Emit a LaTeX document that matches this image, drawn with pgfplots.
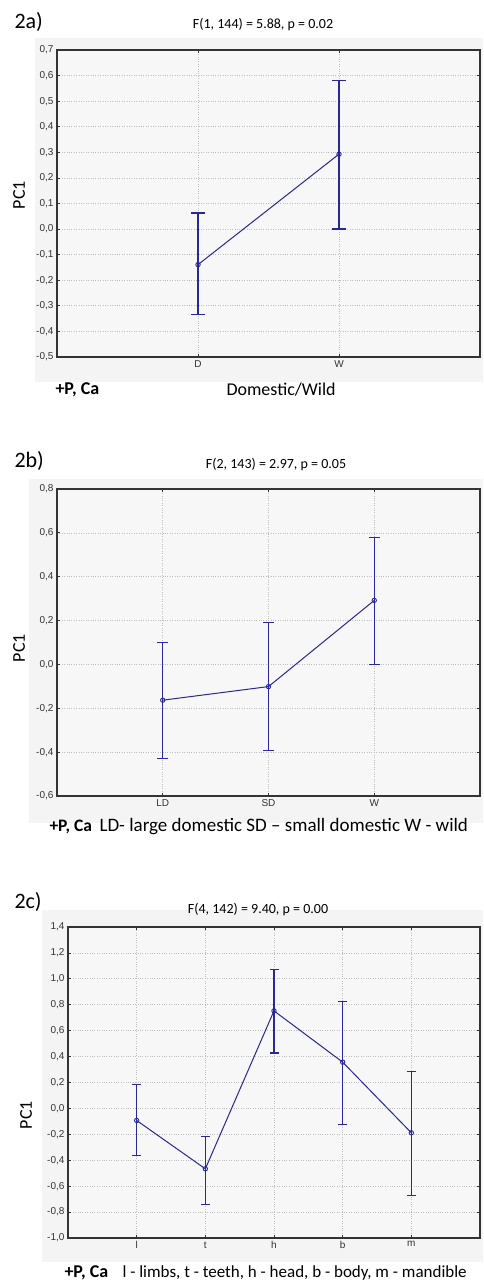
\documentclass[border=0pt]{standalone}
\usepackage{pgfplots}
\pgfplotsset{compat=1.18}
\usepackage{fontspec}
\setmainfont{Carlito}
\newfontfamily\tickfont{Liberation Sans}
\definecolor{statblue}{RGB}{40,40,150}
\definecolor{panelgray}{RGB}{244,244,244}

\pgfplotsset{
  panel/.style={
    scale only axis,
    anchor=north west,
    axis background/.style={fill=panelgray!70!white},
    grid=major,
    major grid style={dotted, gray!50, line width=0.7pt},
    axis line style={line width=1.2pt, black!80},
    tick style={black!80, line width=0.8pt},
    major tick length=3pt,
    tick align=inside,
    ticklabel style={font=\fontsize{10}{11}\selectfont\tickfont, text=black!80},
    yticklabel style={/pgf/number format/.cd, fixed, fixed zerofill, precision=1, use comma},
    /pgf/number format/assume math mode=true,
    xmin=0,
  },
  series/.style={
    statblue, line width=1pt,
    mark=o, mark size=2.2pt, mark options={fill=white, solid, line width=0.9pt},
    error bars/.cd, y dir=both, y explicit,
    error bar style={line width=1.2pt},
    error mark options={rotate=90, mark size=#1, line width=1.2pt},
  },
}

\begin{document}
\begin{tikzpicture}
\useasboundingbox (0,0) rectangle (483pt,-1285pt);

% gray panels behind each chart
\fill[panelgray] (35pt,-38pt) rectangle (483pt,-382pt);
\fill[panelgray] (29pt,-479pt) rectangle (483pt,-823pt);
\fill[panelgray] (42pt,-910pt) rectangle (483pt,-1262pt);

% ---------- 2a ----------
\node[anchor=west, font=\fontsize{22}{24}\selectfont] at (11pt,-22pt) {2a)};
\node[font=\fontsize{14}{16}\selectfont] at (263pt,-25pt) {F(1, 144) = 5.88, p = 0.02};
\begin{axis}[panel,
  at={(57pt,-50pt)}, width=423pt, height=307pt,
  xmax=3, ymin=-0.5, ymax=0.7,
  xtick={1,2}, xticklabels={D,W},
  ytick={-0.5,-0.4,-0.3,-0.2,-0.1,0,0.1,0.2,0.3,0.4,0.5,0.6,0.7},
]
\addplot[series=7pt] coordinates {
  (1,-0.139) += (0,0.2015) -= (0,0.196)
  (2,0.293)  += (0,0.287)  -= (0,0.293)
};
\end{axis}
\node[rotate=90, font=\fontsize{18}{20}\selectfont] at (19pt,-195pt) {PC1};
\node[anchor=west, font=\fontsize{18}{20}\selectfont\bfseries] at (52pt,-390pt) {+P, Ca};
\node[anchor=west, font=\fontsize{18}{20}\selectfont] at (223pt,-390pt) {Domestic/Wild};

% ---------- 2b ----------
\node[anchor=west, font=\fontsize{22}{24}\selectfont] at (11pt,-461pt) {2b)};
\node[font=\fontsize{14}{16}\selectfont] at (276pt,-465pt) {F(2, 143) = 2.97, p = 0.05};
\begin{axis}[panel,
  at={(57pt,-489pt)}, width=423pt, height=307pt,
  xmax=4, ymin=-0.6, ymax=0.8,
  xtick={1,2,3}, xticklabels={LD,SD,W},
  ytick={-0.6,-0.4,-0.2,0,0.2,0.4,0.6,0.8},
]
\addplot[series=5.5pt] coordinates {
  (1,-0.163) += (0,0.262) -= (0,0.265)
  (2,-0.101) += (0,0.291) -= (0,0.291)
  (3,0.292)  += (0,0.288) -= (0,0.292)
};
\end{axis}
\node[rotate=90, font=\fontsize{18}{20}\selectfont] at (19pt,-648pt) {PC1};
\node[anchor=west, font=\fontsize{17.5}{19}\selectfont\bfseries] at (46pt,-827pt) {+P, Ca};
\node[anchor=west, font=\fontsize{19}{21}\selectfont] at (96pt,-827pt) {LD- large domestic SD – small domestic W - wild};

% ---------- 2c ----------
\node[anchor=west, font=\fontsize{22}{24}\selectfont] at (11pt,-902pt) {2c)};
\node[font=\fontsize{14}{16}\selectfont] at (258pt,-909pt) {F(4, 142) = 9.40, p = 0.00};
\begin{axis}[panel,
  at={(68pt,-927pt)}, width=412pt, height=311pt,
  xmax=6, ymin=-1.0, ymax=1.4,
  xtick={1,2,3,4,5}, xticklabels={l,t,h,b,m},
  ytick={-1.0,-0.8,-0.6,-0.4,-0.2,0,0.2,0.4,0.6,0.8,1.0,1.2,1.4},
]
\addplot[series=4.5pt] coordinates {
  (1,-0.093) += (0,0.278) -= (0,0.273)
  (2,-0.466) += (0,0.247) -= (0,0.275)
  (3,0.753)  += (0,0.322) -= (0,0.326)
  (4,0.357)  += (0,0.471) -= (0,0.478)
  (5,-0.188) += (0,0.470) -= (0,0.481)
};
\end{axis}
\node[rotate=90, font=\fontsize{18}{20}\selectfont] at (26pt,-1115pt) {PC1};
\node[anchor=west, font=\fontsize{18}{20}\selectfont\bfseries] at (61pt,-1273pt) {+P, Ca};
\node[anchor=west, font=\fontsize{17}{19}\selectfont] at (119pt,-1273pt) {l - limbs, t - teeth, h - head, b - body, m - mandible};
\end{tikzpicture}
\end{document}
